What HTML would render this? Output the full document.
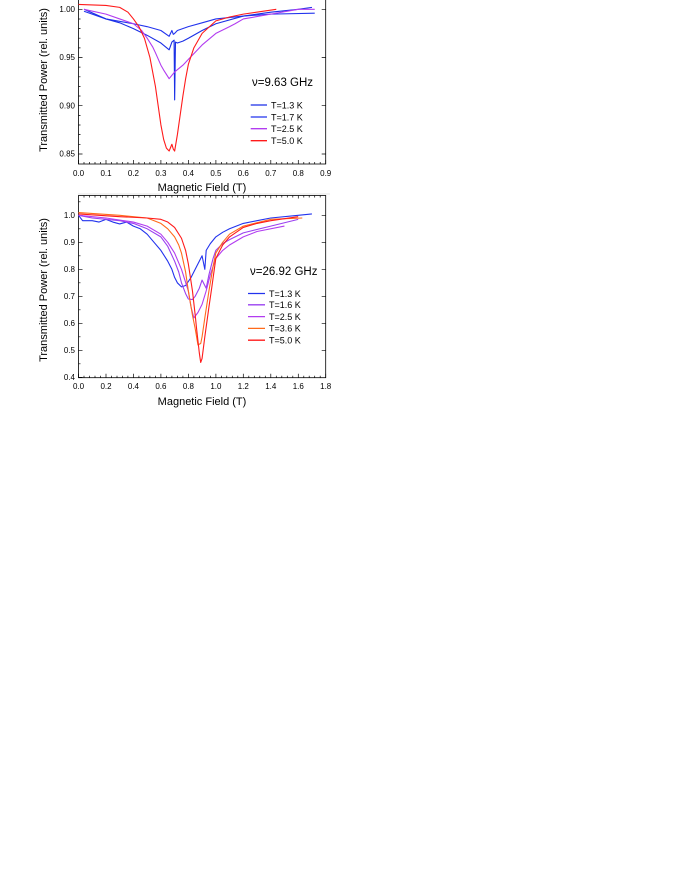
<!DOCTYPE html>
<html><head><meta charset="utf-8"><style>
html,body{margin:0;padding:0;background:#fff;}
svg{display:block;}
text{font-family:"Liberation Sans",Arial,sans-serif;fill:#000;}
</style></head><body>
<svg width="680" height="880" viewBox="0 0 680 880" xmlns="http://www.w3.org/2000/svg">
<rect width="680" height="880" fill="#fff"/>
<!-- TOP PLOT -->
<g stroke="#000" stroke-width="0.8" fill="none">
<rect x="78.5" y="-2" width="247.2" height="166"/>
</g>
<g stroke="#000" stroke-width="0.7">
<path d="M78.5 164v-4M106 164v-4M133.4 164v-4M160.9 164v-4M188.4 164v-4M215.9 164v-4M243.3 164v-4M270.8 164v-4M298.3 164v-4M325.7 164v-4"/>
<path d="M84 164v-2M89.5 164v-2M95 164v-2M100.5 164v-2M111.5 164v-2M117 164v-2M122.4 164v-2M127.9 164v-2M138.9 164v-2M144.4 164v-2M149.9 164v-2M155.4 164v-2M166.4 164v-2M171.9 164v-2M177.4 164v-2M182.9 164v-2M193.9 164v-2M199.4 164v-2M204.9 164v-2M210.4 164v-2M221.4 164v-2M226.8 164v-2M232.3 164v-2M237.8 164v-2M248.8 164v-2M254.3 164v-2M259.8 164v-2M265.3 164v-2M276.3 164v-2M281.8 164v-2M287.3 164v-2M292.8 164v-2M303.8 164v-2M309.2 164v-2M314.7 164v-2M320.2 164v-2"/>
<path d="M78.5 9.3h4M78.5 57.5h4M78.5 105.7h4M78.5 154h4M325.7 9.3h-4M325.7 57.5h-4M325.7 105.7h-4M325.7 154h-4"/>
<path d="M78.5 19h2M78.5 28.6h2M78.5 38.2h2M78.5 47.9h2M78.5 67.1h2M78.5 76.8h2M78.5 86.4h2M78.5 96h2M78.5 115.4h2M78.5 125h2M78.5 134.6h2M78.5 144.3h2"/>
</g>
<g font-size="8" text-anchor="middle">
<text x="78.5" y="176">0.0</text><text x="106" y="176">0.1</text><text x="133.4" y="176">0.2</text><text x="160.9" y="176">0.3</text><text x="188.4" y="176">0.4</text><text x="215.9" y="176">0.5</text><text x="243.3" y="176">0.6</text><text x="270.8" y="176">0.7</text><text x="298.3" y="176">0.8</text><text x="325.7" y="176">0.9</text>
</g>
<g font-size="8" text-anchor="end">
<text x="75" y="12">1.00</text><text x="75" y="60.2">0.95</text><text x="75" y="108.4">0.90</text><text x="75" y="156.7">0.85</text>
</g>
<text x="202" y="191" font-size="11" text-anchor="middle">Magnetic Field (T)</text>
<text transform="translate(47,80) rotate(-90)" font-size="11" text-anchor="middle">Transmitted Power (rel. units)</text>
<line x1="78" y1="194" x2="330" y2="194" stroke="#ddd" stroke-width="0.8"/>
<g transform="translate(78.5,9.3) scale(274.7,-964) translate(0,-1)" fill="none" stroke-width="1.1" stroke-linejoin="round">
<path vector-effect="non-scaling-stroke" stroke="#2233ee" d="M.02 .998L.1 .99L.2 .985L.25 .982L.3 .978L.33 .972L.34 .978L.345 .974L.35 .975L.36 .978L.4 .982L.45 .986L.5 .99L.6 .993L.7 .995L.86 .996"/>
<path vector-effect="non-scaling-stroke" stroke="#1a2fe6" d="M.02 1L.1 .99L.15 .986L.2 .98L.25 .973L.3 .965L.33 .958L.34 .966L.348 .968L.35 .906L.353 .966L.36 .965L.38 .967L.4 .97L.45 .978L.5 .985L.6 .993L.7 .997L.8 1L.85 1.002"/>
<path vector-effect="non-scaling-stroke" stroke="#b23cf0" d="M.02 1L.1 .995L.15 .99L.2 .985L.23 .978L.25 .97L.27 .961L.28 .955L.3 .942L.31 .937L.33 .928L.35 .935L.38 .942L.4 .948L.45 .963L.5 .975L.55 .982L.57 .985L.6 .99L.7 .995L.8 1L.86 1"/>
<path vector-effect="non-scaling-stroke" stroke="#ff1a1a" d="M0 1.005L.1 1.004L.15 1.002L.18 .997L.2 .99L.22 .982L.24 .97L.26 .95L.28 .92L.29 .9L.3 .88L.31 .865L.32 .856L.33 .853L.34 .86L.345 .855L.35 .853L.36 .87L.37 .89L.38 .91L.39 .928L.4 .943L.42 .96L.45 .975L.5 .988L.55 .992L.6 .995L.72 1"/>
</g>
<text x="252" y="86" font-size="11.5">ν=9.63 GHz</text>
<g stroke-width="1.3">
<line x1="250.7" y1="105" x2="267" y2="105" stroke="#1a2fe6"/>
<line x1="250.7" y1="117" x2="267" y2="117" stroke="#2233ee"/>
<line x1="250.7" y1="128.7" x2="267" y2="128.7" stroke="#b23cf0"/>
<line x1="250.7" y1="140.7" x2="267" y2="140.7" stroke="#ff1a1a"/>
</g>
<g font-size="9">
<text x="271" y="108.3">T=1.3 K</text><text x="271" y="120.3">T=1.7 K</text><text x="271" y="132">T=2.5 K</text><text x="271" y="144">T=5.0 K</text>
</g>

<!-- BOTTOM PLOT -->
<rect x="78.5" y="195.5" width="247.2" height="182.2" fill="none" stroke="#000" stroke-width="0.8"/>
<g stroke="#000" stroke-width="0.7">
<path d="M78.5 377.7v-4M106 377.7v-4M133.4 377.7v-4M160.9 377.7v-4M188.4 377.7v-4M215.9 377.7v-4M243.3 377.7v-4M270.8 377.7v-4M298.3 377.7v-4M325.7 377.7v-4"/>
<path d="M84 377.7v-2M89.5 377.7v-2M95 377.7v-2M100.5 377.7v-2M111.5 377.7v-2M117 377.7v-2M122.4 377.7v-2M127.9 377.7v-2M138.9 377.7v-2M144.4 377.7v-2M149.9 377.7v-2M155.4 377.7v-2M166.4 377.7v-2M171.9 377.7v-2M177.4 377.7v-2M182.9 377.7v-2M193.9 377.7v-2M199.4 377.7v-2M204.9 377.7v-2M210.4 377.7v-2M221.4 377.7v-2M226.8 377.7v-2M232.3 377.7v-2M237.8 377.7v-2M248.8 377.7v-2M254.3 377.7v-2M259.8 377.7v-2M265.3 377.7v-2M276.3 377.7v-2M281.8 377.7v-2M287.3 377.7v-2M292.8 377.7v-2M303.8 377.7v-2M309.2 377.7v-2M314.7 377.7v-2M320.2 377.7v-2"/>
<path d="M84 195.5v2M89.5 195.5v2M95 195.5v2M100.5 195.5v2M106 195.5v3M111.5 195.5v2M117 195.5v2M122.4 195.5v2M127.9 195.5v2M133.4 195.5v3M138.9 195.5v2M144.4 195.5v2M149.9 195.5v2M155.4 195.5v2M160.9 195.5v3M166.4 195.5v2M171.9 195.5v2M177.4 195.5v2M182.9 195.5v2M188.4 195.5v3M193.9 195.5v2M199.4 195.5v2M204.9 195.5v2M210.4 195.5v2M215.9 195.5v3M221.4 195.5v2M226.8 195.5v2M232.3 195.5v2M237.8 195.5v2M243.3 195.5v3M248.8 195.5v2M254.3 195.5v2M259.8 195.5v2M265.3 195.5v2M270.8 195.5v3M276.3 195.5v2M281.8 195.5v2M287.3 195.5v2M292.8 195.5v2M298.3 195.5v3M303.8 195.5v2M309.2 195.5v2M314.7 195.5v2M320.2 195.5v2"/>
<path d="M78.5 215.3h4M78.5 242.3h4M78.5 269.3h4M78.5 296.3h4M78.5 323.3h4M78.5 350.3h4M78.5 377.3h4M325.7 215.3h-4M325.7 242.3h-4M325.7 269.3h-4M325.7 296.3h-4M325.7 323.3h-4M325.7 350.3h-4"/>
<path d="M78.5 201.8h2M78.5 228.8h2M78.5 255.8h2M78.5 282.8h2M78.5 309.8h2M78.5 336.8h2M78.5 363.8h2"/>
</g>
<g font-size="8" text-anchor="middle">
<text x="78.5" y="389">0.0</text><text x="106" y="389">0.2</text><text x="133.4" y="389">0.4</text><text x="160.9" y="389">0.6</text><text x="188.4" y="389">0.8</text><text x="215.9" y="389">1.0</text><text x="243.3" y="389">1.2</text><text x="270.8" y="389">1.4</text><text x="298.3" y="389">1.6</text><text x="325.7" y="389">1.8</text>
</g>
<g font-size="8" text-anchor="end">
<text x="75" y="218">1.0</text><text x="75" y="245">0.9</text><text x="75" y="272">0.8</text><text x="75" y="299">0.7</text><text x="75" y="326">0.6</text><text x="75" y="353">0.5</text><text x="75" y="380">0.4</text>
</g>
<text x="202" y="405" font-size="11" text-anchor="middle">Magnetic Field (T)</text>
<text transform="translate(47,290) rotate(-90)" font-size="11" text-anchor="middle">Transmitted Power (rel. units)</text>
<g transform="translate(78.5,215.3) scale(137.3,-270) translate(0,-1)" fill="none" stroke-width="1.1" stroke-linejoin="round">
<path vector-effect="non-scaling-stroke" stroke="#2233ee" d="M0 1L.03 .98L.1 .98L.15 .975L.2 .985L.25 .975L.3 .968L.35 .975L.4 .96L.45 .95L.5 .93L.55 .9L.6 .87L.65 .83L.68 .8L.7 .77L.72 .75L.75 .735L.78 .74L.82 .77L.85 .8L.9 .85L.92 .8L.93 .87L.96 .895L1 .92L1.05 .937L1.1 .95L1.2 .97L1.3 .98L1.4 .99L1.6 1L1.7 1.005"/>
<path vector-effect="non-scaling-stroke" stroke="#9a40f0" d="M0 1L.1 .99L.3 .98L.4 .97L.5 .95L.6 .92L.65 .885L.7 .83L.73 .79L.75 .75L.78 .71L.8 .69L.83 .688L.85 .7L.88 .73L.9 .76L.93 .73L.95 .78L.98 .84L1 .87L1.05 .895L1.1 .91L1.2 .935L1.4 .96L1.6 .985"/>
<path vector-effect="non-scaling-stroke" stroke="#b23cf0" d="M0 1L.2 .99L.4 .975L.5 .96L.6 .93L.65 .9L.7 .86L.75 .8L.8 .72L.82 .66L.84 .62L.87 .64L.9 .67L.93 .72L.96 .78L1 .84L1.05 .87L1.1 .89L1.2 .92L1.3 .94L1.5 .96"/>
<path vector-effect="non-scaling-stroke" stroke="#ff6a1a" d="M0 1.01L.3 1L.5 .99L.6 .97L.65 .95L.7 .92L.73 .89L.75 .86L.78 .79L.8 .72L.83 .63L.85 .58L.87 .52L.89 .525L.9 .55L.92 .62L.95 .72L.98 .81L1 .86L1.05 .9L1.1 .93L1.2 .96L1.4 .985L1.63 .99"/>
<path vector-effect="non-scaling-stroke" stroke="#ff1a1a" d="M0 1.005L.3 .995L.5 .99L.6 .985L.65 .975L.7 .955L.75 .915L.78 .87L.8 .82L.83 .72L.85 .63L.86 .58L.88 .49L.89 .455L.9 .47L.92 .55L.95 .66L.97 .73L1 .84L1.05 .89L1.1 .92L1.2 .955L1.3 .97L1.4 .98L1.6 .995"/>
</g>
<text x="250" y="275" font-size="11.5">ν=26.92 GHz</text>
<g stroke-width="1.3">
<line x1="248" y1="293.5" x2="265" y2="293.5" stroke="#2233ee"/>
<line x1="248" y1="304.8" x2="265" y2="304.8" stroke="#9a40f0"/>
<line x1="248" y1="316.6" x2="265" y2="316.6" stroke="#b23cf0"/>
<line x1="248" y1="328.4" x2="265" y2="328.4" stroke="#ff6a1a"/>
<line x1="248" y1="340.2" x2="265" y2="340.2" stroke="#ff1a1a"/>
</g>
<g font-size="9">
<text x="269" y="296.8">T=1.3 K</text><text x="269" y="308.1">T=1.6 K</text><text x="269" y="319.9">T=2.5 K</text><text x="269" y="331.7">T=3.6 K</text><text x="269" y="343.5">T=5.0 K</text>
</g>
</svg>
</body></html>
